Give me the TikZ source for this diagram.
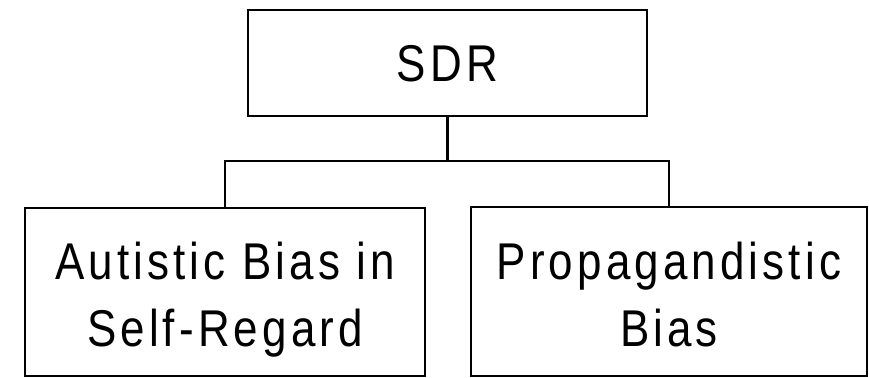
\documentclass[tikz,border=0pt]{standalone}
\usepackage{fontspec}
\setmainfont{Liberation Sans}[FakeStretch=0.85,LetterSpace=8]
\usetikzlibrary{positioning}
\tikzset{font=\fontsize{25.85pt}{33.5pt}\selectfont}
\tikzset{box/.style={draw, line width=1.4pt, inner sep=0pt, align=center, text depth=0pt}}

\begin{document}
\begin{tikzpicture}[x=0.5pt,y=-0.5pt]
  \useasboundingbox (0,0) rectangle (869,378);

  \node[box, text height=18.5pt, minimum width=199.5pt, minimum height=53pt] (sdr) at (447.5,63) {SDR};
  \node[box, text height=55pt, minimum width=200pt, minimum height=84pt] (autistic) at (225,292)
  {Autistic Bias in\\Self-Regard};
  \node[box, text height=55pt, minimum width=198pt, minimum height=84.5pt] (propaganda) at (669,291.5)
  {Propagandistic\\Bias};

  \coordinate (fork) at (447.5,161);
  \draw[line width=1.4pt] (sdr.south) -- (fork);
  \draw[line width=1.4pt] (fork) -| (autistic.north);
  \draw[line width=1.4pt] (fork) -| (propaganda.north);

\end{tikzpicture}
\end{document}
